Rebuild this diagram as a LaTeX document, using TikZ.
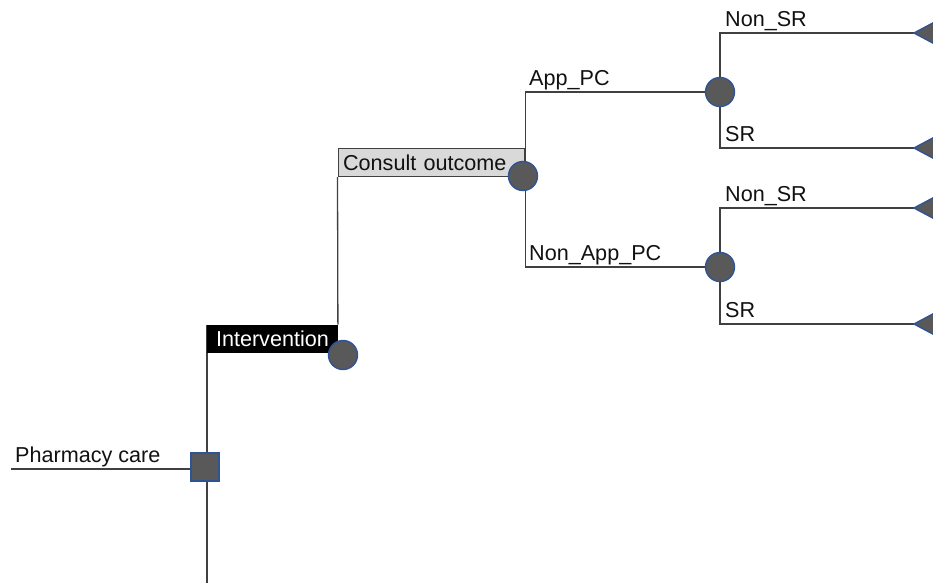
\documentclass[tikz,border=0pt]{standalone}
\usepackage{fontspec}
\setmainfont{Liberation Sans}
\usetikzlibrary{backgrounds}
\definecolor{nodefill}{HTML}{595959}
\definecolor{nodeedge}{HTML}{2F5496}
\definecolor{linecol}{HTML}{404040}
\definecolor{boxgray}{HTML}{D9D9D9}
\definecolor{textcol}{HTML}{111111}

\begin{document}
\begin{tikzpicture}[x=1pt,y=-1pt,
  branch/.style={draw=linecol, line width=1.3pt},
  chance/.style={circle, fill=nodefill, draw=nodeedge, line width=1.4pt, minimum size=29pt, inner sep=0},
  decision/.style={rectangle, fill=nodefill, draw=nodeedge, line width=1.4pt, minimum size=28pt, inner sep=0},
  terminal/.style={fill=nodefill, draw=nodeedge, line width=1.4pt},
  lbl/.style={anchor=base west, inner sep=0, text=textcol, font=\fontsize{21.6}{26}\selectfont},
  boxlbl/.style={anchor=south west, inner sep=5pt, minimum height=28pt, font=\fontsize{21.6}{26}\selectfont},
]
\useasboundingbox (0,0) rectangle (933,582);
\clip (0,0) rectangle (933,582);

% label boxes sitting on their branches
\node[boxlbl, fill=black, text=white, minimum width=130.5pt, align=center] (int) at (207,353) {Intervention};
\node[boxlbl, fill=boxgray, draw=linecol, line width=1.2pt, text=textcol, minimum width=186.5pt, text width=176.5pt, align=left] (cons) at (337.5,177) {Consult outcome};

% decision and chance nodes
\node[decision] (dec) at (205,467) {};
\node[chance] (c1) at (343,355) {};
\node[chance] (c2) at (523,176) {};
\node[chance] (c3) at (720,92) {};
\node[chance] (c4) at (720,267) {};

% terminal tips
\coordinate (root) at (11,469);
\coordinate (t1) at (914,33);
\coordinate (t2) at (914,148);
\coordinate (t3) at (914,208);
\coordinate (t4) at (914,324);
\foreach \t in {t1,t2,t3,t4}
  \draw[terminal] (\t) -- ++(30,-16) -- ++(0,32) -- cycle;

% branch labels
\node[lbl] (lroot) at (15,462) {Pharmacy care};
\node[lbl] (lapp) at (529,85) {App\_PC};
\node[lbl] (lnapp) at (529,260) {Non\_App\_PC};
\node[lbl] (ln1) at (725,26) {Non\_SR};
\node[lbl] (ls1) at (725,141) {SR};
\node[lbl] (ln2) at (725,201) {Non\_SR};
\node[lbl] (ls2) at (725,317) {SR};

% branches
\begin{scope}[on background layer]
  \draw[branch] (root) -- (root -| dec);
  \draw[branch] (int.north west) -- ++(0,270);
  \draw[branch] (int.north east) -- (cons.south west);
  \draw[branch] (c3) -- (c3 -| cons.south east) -- (c4 -| cons.south east) -- (c4);
  \draw[branch] (t1) -- (t1 -| c3) -- (t2 -| c3) -- (t2);
  \draw[branch] (t3) -- (t3 -| c4) -- (t4 -| c4) -- (t4);
\end{scope}
\end{tikzpicture}
\end{document}
